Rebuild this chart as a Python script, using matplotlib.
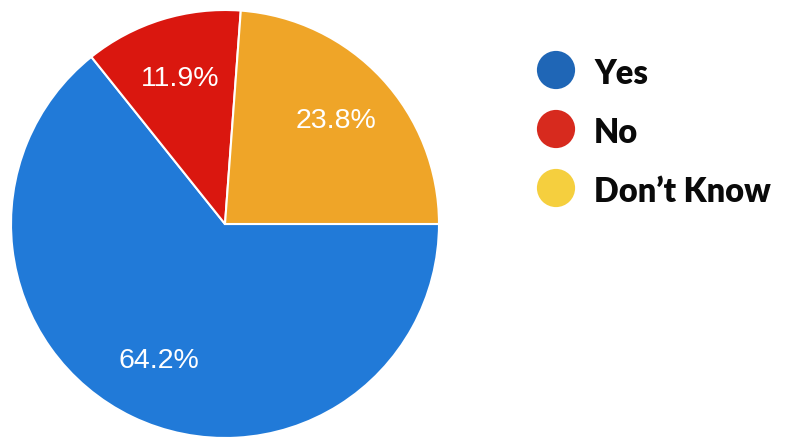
import matplotlib
matplotlib.use("Agg")
import matplotlib.pyplot as plt

# Data
categories = ["Yes", "No", "Don\u2019t Know"]
values = [64.2, 11.9, 23.8]
pie_colors = ["#217ad8", "#da170f", "#efa528"]
legend_colors = ["#1f66b6", "#d72a1e", "#f5cf3e"]

total = sum(values)

fig = plt.figure(figsize=(7.87, 4.37), dpi=100)
W, H = 787, 437

# Pie axes: center ~ (225, 224) px, radius ~ 214 px
cx, cy, R = 225, 224, 214
ax = fig.add_axes([(cx - R) / W, (H - cy - R) / H, 2 * R / W, 2 * R / H])
wedges, texts, autotexts = ax.pie(
    values,
    colors=pie_colors,
    startangle=0,
    counterclock=False,
    autopct=lambda p: f"{p * total / 100:.1f}%",
    pctdistance=0.71,
    wedgeprops=dict(edgecolor="white", linewidth=1.5),
    textprops=dict(color="white", fontsize=20.5, family=["Liberation Sans", "DejaVu Sans"]),
)
ax.set_xlim(-1, 1)
ax.set_ylim(-1, 1)
ax.set_aspect("equal")
ax.axis("off")

# Legend drawn in a pixel-mapped overlay axes
lax = fig.add_axes([0, 0, 1, 1], zorder=-1)
lax.set_xlim(0, W)
lax.set_ylim(H, 0)
lax.axis("off")
ys = [70, 129, 188]
for cat, col, y in zip(categories, legend_colors, ys):
    lax.scatter([556], [y], s=27.5 ** 2, color=col, edgecolors="none")
    lax.text(594, y + 1, cat, fontsize=23.5, fontweight="heavy",
             family=["Lato", "DejaVu Sans"], va="center_baseline", ha="left", color="#0a0a0a")

fig.savefig("out.png", dpi=100)
